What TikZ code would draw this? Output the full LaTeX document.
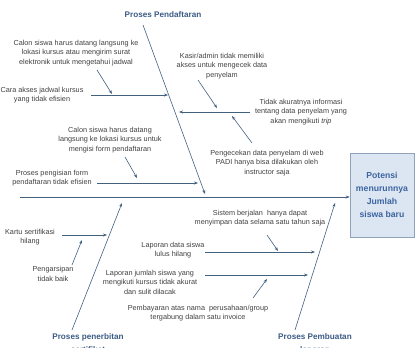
\documentclass[tikz,border=0pt]{standalone}
\usepackage{fontspec}
\setmainfont{Liberation Sans}
\usetikzlibrary{arrows.meta}
\definecolor{txtgray}{HTML}{404040}
\definecolor{linecol}{HTML}{41617F}
\definecolor{titlecol}{HTML}{3B5B85}
\definecolor{boxfill}{HTML}{DCE6F2}
\definecolor{boxdraw}{HTML}{8FA2BA}
\definecolor{boxtext}{HTML}{3C64A0}
\tikzset{
  cause/.style={inner sep=0pt, align=center, text=txtgray, font=\fontsize{7.3}{9.6}\selectfont},
  bonetitle/.style={inner sep=0pt, align=center, text=titlecol, font=\bfseries\fontsize{8.2}{13}\selectfont},
  bone/.style={draw=linecol, line width=0.6pt, -{Stealth[length=4pt,width=3pt]}},
  subarrow/.style={draw=linecol, line width=0.6pt, -{Stealth[length=4pt,width=3pt]}},
  effectbox/.style={draw=boxdraw, fill=boxfill, line width=0.6pt, minimum width=64bp, minimum height=84bp, inner sep=0pt, align=center, text=boxtext, font=\bfseries\fontsize{8.7}{13}\selectfont}
}
\begin{document}
\begin{tikzpicture}[x=1bp,y=-1bp]
\useasboundingbox (0,0) rectangle (417,348);
% effect
\node[effectbox] (eff) at (382,195) {Potensi\\menurunnya\\Jumlah\\siswa baru};
\coordinate (spS) at (20,197);
\draw[bone] (spS) -- (eff.west |- spS);

% top bone
\node[bonetitle] (tp) at (163,15) {Proses Pendaftaran};
\coordinate (tpS) at (143,25); \coordinate (tpE) at (205,194);
\draw[bone] (tpS) -- (tpE);

\node[cause] (c1) at (76,53) {Calon siswa harus datang langsung ke\\lokasi kursus atau mengirim surat\\elektronik untuk mengetahui jadwal};
\coordinate (c1s) at (97,70); \coordinate (c1e) at (112,94);
\draw[subarrow] (c1s) -- (c1e);

\node[cause] (c2) at (42,95) {Cara akses jadwal kursus\\yang tidak efisien};
\coordinate (c2s) at (91,95); \coordinate (c2e) at (168,95);
\draw[subarrow] (c2s) -- (c2e);

\node[cause] (c3) at (222,66) {Kasir/admin tidak memiliki\\akses untuk mengecek data\\penyelam};
\coordinate (c3s) at (198,80); \coordinate (c3e) at (217,108);
\draw[subarrow] (c3s) -- (c3e);

\node[cause] (c4) at (301,112) {Tidak akuratnya informasi\\tentang data penyelam yang\\akan mengikuti \textit{trip}};
\coordinate (c4s) at (250,112); \coordinate (c4e) at (179,112);
\draw[subarrow] (c4s) -- (c4e);

\node[cause] (c5) at (267,163) {Pengecekan data penyelam di web\\PADI hanya bisa dilakukan oleh\\instructor saja};
\coordinate (c5s) at (252,143); \coordinate (c5e) at (232,116);
\draw[subarrow] (c5s) -- (c5e);

\node[cause] (c6) at (110,140) {Calon siswa harus datang\\langsung ke lokasi kursus untuk\\mengisi form pendaftaran};
\coordinate (c6s) at (125,157); \coordinate (c6e) at (137,178);
\draw[subarrow] (c6s) -- (c6e);

\node[cause] (c7) at (52,178) {Proses pengisian form\\pendaftaran tidak efisien};
\coordinate (c7s) at (97,183); \coordinate (c7e) at (198,183);
\draw[subarrow] (c7s) -- (c7e);

% bottom-left bone
\node[bonetitle, anchor=north] (bl) at (88,333) {Proses penerbitan\\sertifikat};
\coordinate (blS) at (72,330); \coordinate (blE) at (122,203);
\draw[bone] (blS) -- (blE);

\node[cause] (d1) at (30,237) {Kartu sertifikasi\\hilang};
\coordinate (d1s) at (62,235); \coordinate (d1e) at (107,235);
\draw[subarrow] (d1s) -- (d1e);

\node[cause] (d2) at (53,274) {Pengarsipan\\tidak baik};
\coordinate (d2s) at (72,265); \coordinate (d2e) at (82,240);
\draw[subarrow] (d2s) -- (d2e);

% bottom-right bone
\node[bonetitle, anchor=north] (br) at (315,333) {Proses Pembuatan\\laporan};
\coordinate (brS) at (295,330); \coordinate (brE) at (335,203);
\draw[bone] (brS) -- (brE);

\node[cause] (e1) at (260,218) {Sistem berjalan \ hanya dapat\\menyimpan data selama satu tahun saja};
\coordinate (e1s) at (267,235); \coordinate (e1e) at (278,251);
\draw[subarrow] (e1s) -- (e1e);

\node[cause] (e2) at (173,250) {Laporan data siswa\\lulus hilang};
\coordinate (e2s) at (205,252); \coordinate (e2e) at (315,252);
\draw[subarrow] (e2s) -- (e2e);

\node[cause] (e3) at (150,282) {Laporan jumlah siswa yang\\mengikuti kursus tidak akurat\\dan sulit dilacak};
\coordinate (e3s) at (205,275); \coordinate (e3e) at (308,275);
\draw[subarrow] (e3s) -- (e3e);

\node[cause] (e4) at (198,313) {Pembayaran atas nama \ perusahaan/group\\tergabung dalam satu invoice};
\coordinate (e4s) at (253,298); \coordinate (e4e) at (267,279);
\draw[subarrow] (e4s) -- (e4e);
\end{tikzpicture}
\end{document}
